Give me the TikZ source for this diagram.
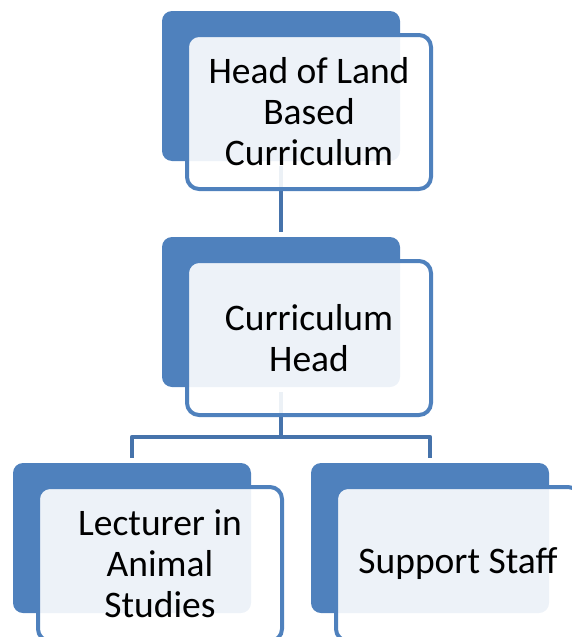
\documentclass[tikz,border=0pt]{standalone}
\usepackage{fontspec}
\setmainfont{Carlito}
\usepackage{tikz}

\definecolor{azul}{HTML}{4F81BD}
\definecolor{azulosc}{HTML}{4673AB}

\tikzset{
  atras/.style={rectangle,rounded corners=10pt,fill=azul,
    minimum width=238pt,minimum height=150pt,inner sep=0pt},
  frente/.style={rectangle,rounded corners=12pt,draw=azul,line width=4pt,
    fill=white,fill opacity=0.9,text opacity=1,
    minimum width=244pt,minimum height=154pt,inner sep=0pt,
    align=center,font=\fontsize{37.5}{41}\selectfont},
  conector/.style={draw=azulosc,line width=4.5pt}
}

\begin{document}
\begin{tikzpicture}[x=1pt,y=-1pt]
% Margenes
\useasboundingbox (0,0) rectangle (571,637);

% Desplazamiento de la caja delantera
\def\dx{28}
\def\dy{26}

% Cajas de fondo
\node[atras] (headB) at (281,86) {};
\node[atras] (curricB) at (281,312) {};
\node[atras] (lectB) at (132,538) {};
\node[atras] (suppB) at (430,538) {};

% Conectores
\coordinate (bar) at (281,437);
\draw[conector] ([yshift=-5pt]headB.south) -- ([yshift=5pt]curricB.north);
\draw[conector] ([yshift=-5pt]curricB.south) -- (bar);
\draw[conector,line join=round] ([yshift=5pt]lectB.north) |- (bar) -| ([yshift=5pt]suppB.north);

% Cajas delanteras
\node[frente] (headF) at (281+\dx,86+\dy) {Head of Land\\Based\\Curriculum};
\node[frente] (curricF) at (281+\dx,312+\dy) {Curriculum\\Head};
\node[frente] (lectF) at (132+\dx,538+\dy) {Lecturer in\\Animal\\Studies};
\node[frente] (suppF) at (430+\dx,538+\dy) {Support Staff};
\end{tikzpicture}
\end{document}
